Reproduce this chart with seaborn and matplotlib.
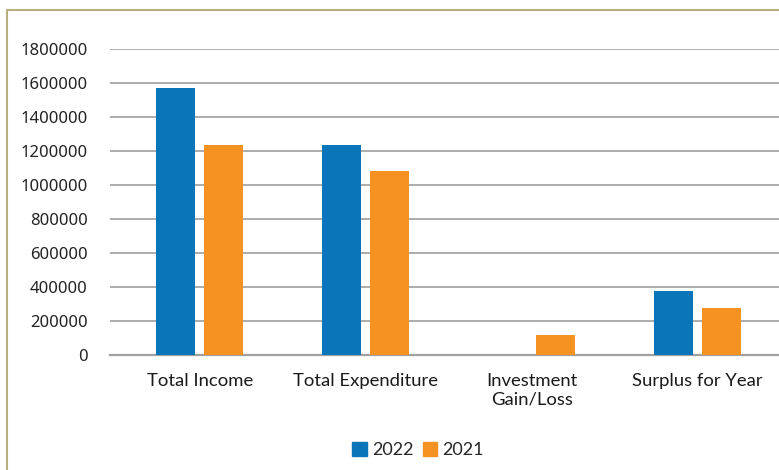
import matplotlib
matplotlib.use("Agg")
import matplotlib.pyplot as plt
from matplotlib.lines import Line2D
import pandas as pd
import seaborn as sns

categories = ["Total Income", "Total Expenditure", "Investment\nGain/Loss", "Surplus for Year"]
years = ["2022", "2021"]
values_2022 = [1570000, 1235000, 0, 375000]
values_2021 = [1235000, 1080000, 115000, 275000]
y_ticks = [0, 200000, 400000, 600000, 800000, 1000000, 1200000, 1400000, 1600000, 1800000]

df = pd.DataFrame({
    "category": categories * 2,
    "year": [years[0]] * len(categories) + [years[1]] * len(categories),
    "value": values_2022 + values_2021,
})

sns.set_style("white")
plt.rcParams['font.family'] = ['Noto Sans', 'DejaVu Sans']

colors = {"2022": "#0a75b9", "2021": "#f59222"}

fig = plt.figure(figsize=(7.79, 4.70), dpi=100)
ax = fig.add_axes([110 / 779, 1 - 355 / 470, 1 - 110 / 779, (355 - 49) / 470])

sns.barplot(data=df, x="category", y="value", hue="year", hue_order=years,
            palette=colors, width=0.58, gap=0.2, saturation=1, linewidth=0,
            ax=ax, legend=False, zorder=3)

ax.set_xlim(-0.54, 3.49)
ax.set_ylim(0, 1800000)
ax.set_yticks(y_ticks)
ax.set_yticklabels([str(v) for v in y_ticks], fontsize=12, color="#222222")
ax.set_xticks(range(len(categories)))
ax.set_xticklabels(categories, fontsize=13.3, color="#1a1a1a", family=['Lato', 'DejaVu Sans'])
ax.tick_params(axis="both", length=0)
ax.tick_params(axis="x", pad=13)
ax.tick_params(axis="y", pad=16)
ax.set_xlabel("")
ax.set_ylabel("")

ax.grid(axis="y", color="#a6a6a6", linewidth=1.3, zorder=0)
ax.set_axisbelow(True)
for side in ["top", "right", "left"]:
    ax.spines[side].set_visible(False)
ax.spines["bottom"].set_color("#a0a0a0")
ax.spines["bottom"].set_linewidth(1.6)

handles = [plt.Rectangle((0, 0), 1, 1, color=colors[y]) for y in years]
fig.legend(handles, years, loc="center", bbox_to_anchor=(418 / 779, 1 - 450 / 470),
           ncol=2, frameon=False, handlelength=0.8, handleheight=0.8,
           handletextpad=0.3, columnspacing=0.5, prop={'family': ['Lato', 'DejaVu Sans'], 'size': 13})

# outer frame
border = "#b8ae7e"
fig.add_artist(Line2D([7 / 779, 7 / 779], [0, 1 - 10 / 470], color=border, linewidth=1.5))
fig.add_artist(Line2D([7 / 779, 1], [1 - 10 / 470, 1 - 10 / 470], color=border, linewidth=1.5))

fig.savefig("out.png", dpi=100)
